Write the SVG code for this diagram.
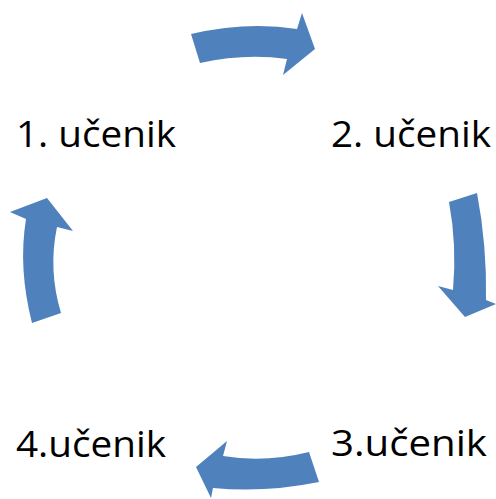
<svg xmlns="http://www.w3.org/2000/svg" width="496" height="499" viewBox="0 0 496 499">
<style>
.arrow{fill:#4F81BD;stroke:none}
.lbl{font-family:"Open Sans","Liberation Sans",sans-serif;font-size:36px;fill:#000}
</style>
<rect width="496" height="499" fill="#fff"/>
<g id="connectors">
<path class="arrow" d="M191,34 Q247,21 297,29 L302,13 L315,49 L283,75 L287,59 Q245,53 200,63 Z"/>
<path class="arrow" d="M477,193 Q487,245 486,300 L496,304 L465,317 L438,286 L453,290 Q457,245 449,202 Z"/>
<path class="arrow" d="M319,482 Q265,493 213,488 L211,498 L196,467 L227,441 L223,456 Q265,463 309,452 Z"/>
<path class="arrow" d="M32,323 Q18,268 26,219 L10,212 L47,198 L73,231 L57,227 Q48,270 61,313 Z"/>
</g>
<g id="node1"><text class="lbl" x="16" y="147" textLength="160" lengthAdjust="spacingAndGlyphs">1. učenik</text></g>
<g id="node2"><text class="lbl" x="331" y="147" textLength="160" lengthAdjust="spacingAndGlyphs">2. učenik</text></g>
<g id="node3"><text class="lbl" x="331" y="456" textLength="156" lengthAdjust="spacingAndGlyphs">3.učenik</text></g>
<g id="node4"><text class="lbl" x="16" y="457" textLength="150" lengthAdjust="spacingAndGlyphs">4.učenik</text></g>
</svg>
